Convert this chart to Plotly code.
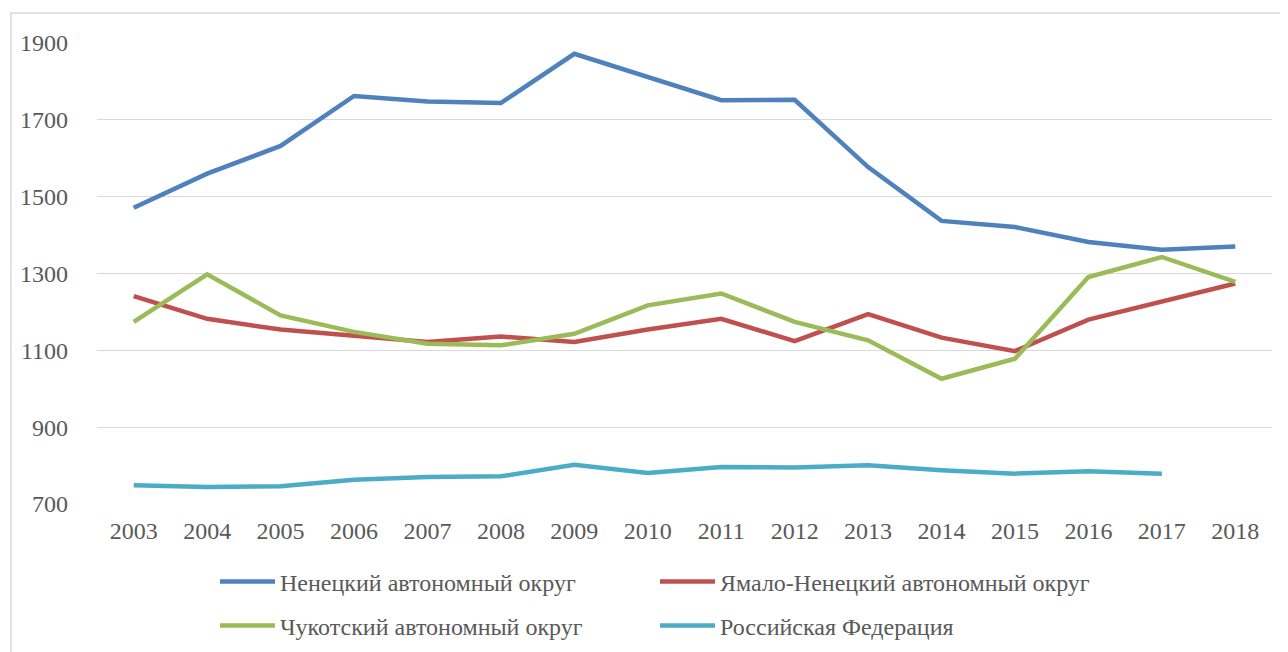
import plotly.graph_objects as go

years = [str(y) for y in range(2003, 2019)]
nenets = [1471, 1560, 1632, 1762, 1748, 1744, 1872, 1813, 1751, 1752, 1577, 1437, 1421, 1382, 1362, 1370]
yamal = [1241, 1182, 1154, 1139, 1122, 1136, 1122, 1154, 1182, 1124, 1194, 1133, 1098, 1180, 1226, 1274]
chukotka = [1174, 1298, 1191, 1148, 1117, 1113, 1143, 1217, 1248, 1174, 1126, 1026, 1078, 1291, 1343, 1278]
russia = [749, 744, 746, 763, 770, 772, 802, 781, 796, 795, 801, 788, 779, 785, 779]

names = ["Ненецкий автономный округ", "Ямало-Ненецкий автономный округ",
         "Чукотский автономный округ", "Российская Федерация"]
colors = ["#4F81BD", "#C0504D", "#9BBB59", "#4BACC6"]
series = [nenets, yamal, chukotka, russia]
legends = ["legend", "legend", "legend2", "legend2"]

FONT = "Liberation Serif, Times New Roman, serif"
TXT = "#595959"
FS = 24

fig = go.Figure()
for name, col, vals, lg in zip(names, colors, series, legends):
    fig.add_trace(go.Scatter(
        x=years[:len(vals)], y=vals, mode="lines", name=name,
        line=dict(color=col, width=4.5), legend=lg,
    ))

leg_common = dict(
    orientation="h", xanchor="left", yanchor="middle",
    xref="container", yref="container",
    entrywidth=370, entrywidthmode="pixels", itemwidth=55,
    font=dict(family=FONT, size=FS, color=TXT), bgcolor="rgba(0,0,0,0)",
    traceorder="normal",
)

fig.update_layout(
    width=1288, height=652,
    margin=dict(l=87, r=24, t=35, b=156),
    paper_bgcolor="white", plot_bgcolor="white",
    font=dict(family=FONT, size=FS, color=TXT),
    xaxis=dict(
        type="category", range=[-0.5, len(years) - 0.5],
        showgrid=False, showline=False, zeroline=False,
        ticks="", tickfont=dict(family=FONT, size=FS, color=TXT),
        ticklabelstandoff=10,
    ),
    yaxis=dict(
        range=[700, 1900], dtick=200, tick0=700, showgrid=True,
        gridcolor="#D9D9D9", gridwidth=1.3, zeroline=False, showline=False,
        ticks="", tickfont=dict(family=FONT, size=FS, color=TXT),
        ticklabelstandoff=28,
    ),
    legend=dict(x=207 / 1288, y=1 - 574 / 652, **leg_common),
    legend2=dict(x=207 / 1288, y=1 - 618 / 652, **leg_common),
    showlegend=True,
)

# outer chart border
fig.add_shape(type="rect", xref="paper", yref="paper",
              x0=-0.0733, x1=1.2, y0=-0.5, y1=1.065,
              line=dict(color="#D9D9D9", width=1.5), fillcolor="rgba(0,0,0,0)", layer="below")

fig.write_html("out.html")
